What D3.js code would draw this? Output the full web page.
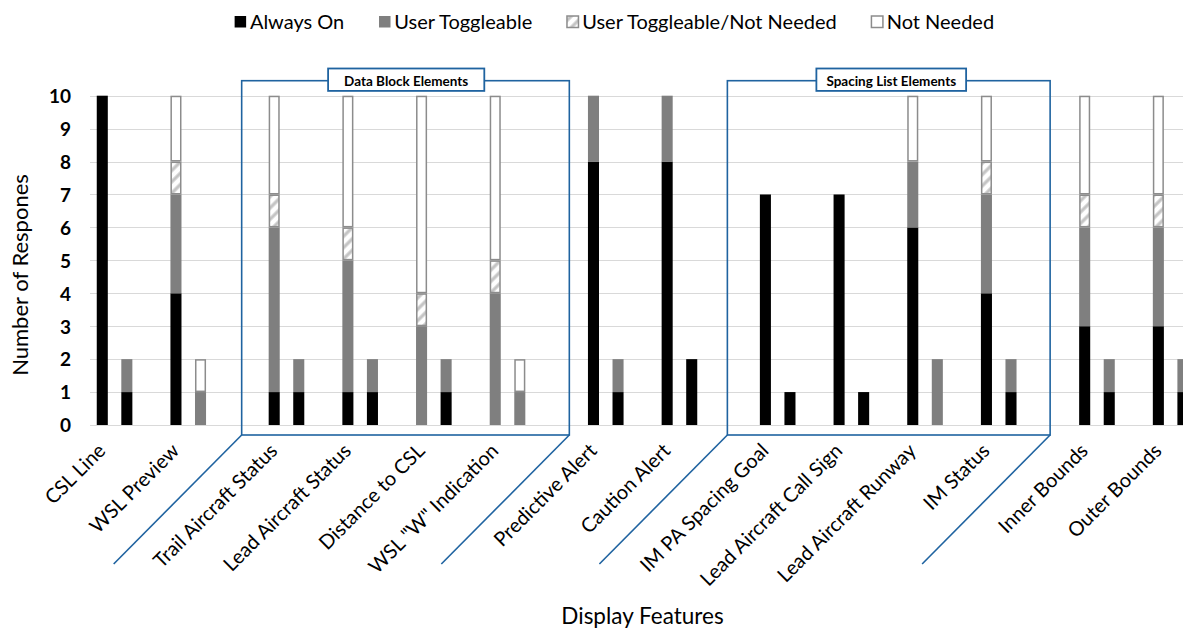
<!DOCTYPE html>
<html>
<head>
<meta charset="utf-8">
<script src="https://cdn.jsdelivr.net/npm/d3@7"></script>
<style>
  html, body { margin: 0; padding: 0; background: #fff; overflow: hidden; }
  svg { display: block; font-family: Lato, "Open Sans", sans-serif; }
</style>
</head>
<body>
<svg id="chart" width="1183" height="628"></svg>
<script>
// ---------------- DATA ----------------
const categories = [
  "CSL Line", "WSL Preview",
  "Trail Aircraft Status", "Lead Aircraft Status", "Distance to CSL", "WSL \"W\" Indication",
  "Predictive Alert", "Caution Alert",
  "IM PA Spacing Goal", "Lead Aircraft Call Sign", "Lead Aircraft Runway", "IM Status",
  "Inner Bounds", "Outer Bounds"
];
const groupLabels = [null, "Data Block Elements", null, "Spacing List Elements", null];
const groupCounts = [2, 4, 2, 4, 2];

const seriesNames = ["Always On", "User Toggleable", "User Toggleable/Not Needed", "Not Needed"];

// first (tall) bar of each feature
const alwaysOnA    = [10, 4, 1, 1, 0, 0, 8, 8, 7, 7, 6, 4, 3, 3];
const userToggleA  = [ 0, 3, 5, 4, 3, 4, 2, 2, 0, 0, 2, 3, 3, 3];
const utNotNeedA   = [ 0, 1, 1, 1, 1, 1, 0, 0, 0, 0, 0, 1, 1, 1];
const notNeededA   = [ 0, 2, 3, 4, 6, 5, 0, 0, 0, 0, 2, 2, 3, 3];
// second (short) bar of each feature
const alwaysOnB    = [ 1, 0, 1, 1, 1, 0, 1, 2, 1, 1, 0, 1, 1, 1];
const userToggleB  = [ 1, 1, 1, 1, 1, 1, 1, 0, 0, 0, 2, 1, 1, 1];
const utNotNeedB   = [ 0, 0, 0, 0, 0, 0, 0, 0, 0, 0, 0, 0, 0, 0];
const notNeededB   = [ 0, 1, 0, 0, 0, 1, 0, 0, 0, 0, 0, 0, 0, 0];

const yTicks = [0, 1, 2, 3, 4, 5, 6, 7, 8, 9, 10];
const yTitle = "Number of Respones";
const xTitle = "Display Features";

// ---------------- BUILD ----------------
const keys = ["on", "ut", "utnn", "nn"];
const bars = [];
const slots = [];
let ci = 0;
groupCounts.forEach((n, gi) => {
  if (gi > 0) slots.push("gap" + gi);
  for (let k = 0; k < n; k++, ci++) {
    slots.push(ci + "A", ci + "B", ci + "_");
    bars.push({slot: ci + "A", cat: ci, on: alwaysOnA[ci], ut: userToggleA[ci], utnn: utNotNeedA[ci], nn: notNeededA[ci]});
    bars.push({slot: ci + "B", cat: ci, on: alwaysOnB[ci], ut: userToggleB[ci], utnn: utNotNeedB[ci], nn: notNeededB[ci]});
  }
});

const svg = d3.select("#chart");
const plotLeft = 90, plotTop = 95.7, plotBottom = 425;
const step = 24.56;
const x = d3.scaleBand().domain(slots)
  .range([plotLeft, plotLeft + step * (slots.length)])
  .paddingInner(0.55).paddingOuter(0.275);
const y = d3.scaleLinear().domain([0, 10]).range([plotBottom, plotTop]);

const blue = "#1f63a0";
const fills = {on: "#000000", ut: "#7f7f7f", utnn: "url(#hatch)", nn: "#ffffff"};
const strokes = {on: "none", ut: "none", utnn: "#8c8c8c", nn: "#8c8c8c"};

// pattern
const defs = svg.append("defs");
const pat = defs.append("pattern").attr("id", "hatch").attr("patternUnits", "userSpaceOnUse")
  .attr("width", 8).attr("height", 8).attr("patternTransform", "rotate(45)");
pat.append("rect").attr("width", 8).attr("height", 8).attr("fill", "#fff");
pat.append("line").attr("x1", 2).attr("y1", 0).attr("x2", 2).attr("y2", 8)
  .attr("stroke", "#c4c4c4").attr("stroke-width", 3.2);

// gridlines
svg.append("g").selectAll("line").data(yTicks).join("line")
  .attr("x1", plotLeft).attr("x2", plotLeft + step * slots.length)
  .attr("y1", d => Math.round(y(d)) + 0.5).attr("y2", d => Math.round(y(d)) + 0.5)
  .attr("stroke", "#d9d9d9").attr("stroke-width", 1.2);

// y axis
const yAxis = svg.append("g").attr("transform", `translate(${plotLeft},0)`)
  .call(d3.axisLeft(y).tickValues(yTicks).tickSize(0).tickPadding(19).tickFormat(d3.format("d")));
yAxis.select(".domain").remove();
yAxis.selectAll("text").attr("font-family", "Lato, sans-serif").attr("font-size", 19)
  .attr("font-weight", "bold").attr("fill", "#000").attr("dy", "0.36em");

// bars
const stacked = d3.stack().keys(keys)(bars);
const bw = x.bandwidth();
svg.append("g").selectAll("g").data(stacked).join("g")
  .each(function(layer) {
    const k = layer.key;
    const o = strokes[k] !== "none" ? 0.75 : 0;
    d3.select(this).selectAll("rect").data(layer.filter(d => d[1] - d[0] > 0)).join("rect")
      .attr("x", d => x(d.data.slot) + o)
      .attr("width", bw - 2 * o)
      .attr("y", d => y(d[1]) + o)
      .attr("height", d => y(d[0]) - y(d[1]) - 2 * o)
      .attr("fill", fills[k]).attr("stroke", strokes[k]).attr("stroke-width", 1.5);
  });

// category labels
const firstSlot = categories.map((c, i) => i + "A");
svg.append("g").selectAll("text").data(categories).join("text")
  .attr("transform", (d, i) => `translate(${x(firstSlot[i]) + bw / 2 + 4.5},${plotBottom + 27}) rotate(-45)`)
  .attr("text-anchor", "end").attr("font-size", 20).attr("fill", "#000")
  .text(d => d);

// group brackets
let start = 0;
const brackets = [];
groupCounts.forEach((n, gi) => {
  if (groupLabels[gi]) brackets.push({label: groupLabels[gi], first: start, last: start + n - 1});
  start += n;
});
const bracketPad = [[27, 44, 16], [32.5, 33.6, 10]]; // layout: left pad, right pad, label box pad
const bTop = 80.7, bBottom = plotBottom + 10, diag = 128;
const bg = svg.append("g");
brackets.forEach((b, bi) => {
  const [pl, pr, pb] = bracketPad[bi];
  const L = x(b.first + "A") - pl;
  const R = x(b.last + "B") + bw + pr;
  bg.append("rect").attr("x", L).attr("y", bTop).attr("width", R - L).attr("height", bBottom - bTop)
    .attr("fill", "none").attr("stroke", blue).attr("stroke-width", 1.6);
  bg.append("line").attr("x1", L).attr("y1", bBottom).attr("x2", L - diag).attr("y2", bBottom + diag + 1)
    .attr("stroke", blue).attr("stroke-width", 1.6);
  bg.append("line").attr("x1", R).attr("y1", bBottom).attr("x2", R - diag).attr("y2", bBottom + diag + 1)
    .attr("stroke", blue).attr("stroke-width", 1.6);
  const cx = (L + R) / 2 + (bi === 1 ? 2.5 : 0.7);
  const t = bg.append("text").attr("x", cx).attr("y", bTop + 5).attr("text-anchor", "middle")
    .attr("font-size", 13.5).attr("font-weight", "bold").attr("fill", "#000").text(b.label);
  const w = t.node().getComputedTextLength();
  bg.insert("rect", "text:last-child").attr("x", cx - w / 2 - pb).attr("y", bTop - 12.2)
    .attr("width", w + 2 * pb).attr("height", 22.4).attr("fill", "#fff")
    .attr("stroke", blue).attr("stroke-width", 1.8);
  t.raise();
});

// axis titles
svg.append("text").attr("transform", `translate(28,275) rotate(-90)`).attr("text-anchor", "middle")
  .attr("font-size", 22).attr("fill", "#000").text(yTitle);
svg.append("text").attr("x", 642.5).attr("y", 624).attr("text-anchor", "middle")
  .attr("font-size", 22.5).attr("fill", "#000").text(xTitle);

// legend
const leg = svg.append("g");
const legFills = ["#000000", "#7f7f7f", "url(#hatch)", "#ffffff"];
const legStroke = ["none", "none", "#8c8c8c", "#8c8c8c"];
let lx = 0;
seriesNames.forEach((s, i) => {
  const g = leg.append("g");
  g.append("rect").attr("x", lx + 0.75).attr("y", 16).attr("width", 11.5).attr("height", 11.5)
    .attr("fill", legFills[i]).attr("stroke", legStroke[i]).attr("stroke-width", 1.5);
  const t = g.append("text").attr("x", lx + 16).attr("y", 29).attr("font-size", 20)
    .attr("fill", "#000").text(s);
  lx += 16 + t.node().getComputedTextLength() + 34;
});
const totalW = lx - 34;
leg.attr("transform", `translate(${614 - totalW / 2},0)`);
</script>
</body>
</html>
